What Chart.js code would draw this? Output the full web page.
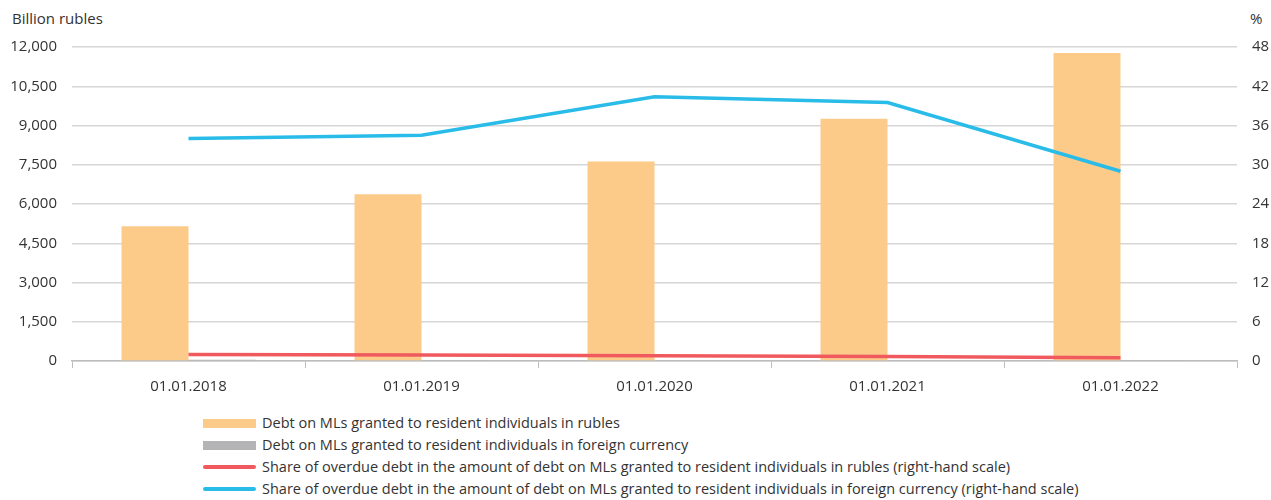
<!DOCTYPE html>
<html>
<head>
<meta charset="utf-8">
<script src="https://cdn.jsdelivr.net/npm/chart.js@4"></script>
<style>
  body { margin: 0; background: #fff; font-family: "Open Sans", sans-serif; color: #333; }
  #wrap { position: relative; width: 1271px; height: 500px; }
  #chart-box { position: absolute; left: 0; top: 0; width: 1271px; height: 410px; }
  .unit { position: absolute; top: 8px; font-size: 15px; color: #333; }
  #legend { position: absolute; left: 203px; top: 412px; font-size: 14.5px; color: #333; }
  .item { height: 22px; line-height: 22px; display: flex; align-items: center; }
  .sw { width: 53px; margin-right: 6px; }
</style>
</head>
<body>
<div id="wrap">
  <div class="unit" style="left:12px">Billion rubles</div>
  <div class="unit" style="left:1250px">%</div>
  <div id="chart-box"><canvas id="c"></canvas></div>
  <div id="legend"></div>
</div>
<script>
// données
const dates = ["01.01.2018", "01.01.2019", "01.01.2020", "01.01.2021", "01.01.2022"];
const debtRub = [5150, 6370, 7620, 9260, 11770];
const debtFx = [45, 35, 30, 25, 20];
const overdueRub = [1.0, 0.9, 0.8, 0.7, 0.5];
const overdueFx = [34.0, 34.5, 40.4, 39.5, 29.0];

const labels = [
  "Debt on MLs granted to resident individuals in rubles",
  "Debt on MLs granted to resident individuals in foreign currency",
  "Share of overdue debt in the amount of debt on MLs granted to resident individuals in rubles (right-hand scale)",
  "Share of overdue debt in the amount of debt on MLs granted to resident individuals in foreign currency (right-hand scale)",
];
const colors = ["#FCCB8A", "#B4B4B6", "#F05A5E", "#29BCE8"];

const tickFont = { family: "Open Sans", size: 15 };

new Chart(document.getElementById("c"), {
  type: "bar",
  data: {
    labels: dates,
    datasets: [
      { label: labels[0], data: debtRub, backgroundColor: colors[0], yAxisID: "y", order: 2, categoryPercentage: 0.575, barPercentage: 1 },
      { label: labels[1], data: debtFx, backgroundColor: colors[1], yAxisID: "y", order: 2, categoryPercentage: 0.575, barPercentage: 1 },
      { type: "line", label: labels[2], data: overdueRub, borderColor: colors[2], borderWidth: 3.5, pointRadius: 0, tension: 0, yAxisID: "y1", order: 0 },
      { type: "line", label: labels[3], data: overdueFx, borderColor: colors[3], borderWidth: 3.5, pointRadius: 0, tension: 0, yAxisID: "y1", order: 0 },
    ],
  },
  options: {
    responsive: true,
    maintainAspectRatio: false,
    animation: false,
    layout: { padding: { top: 47, left: 0, right: 0, bottom: 4 } },
    plugins: { legend: { display: false }, tooltip: { enabled: false } },
    scales: {
      x: {
        grid: { offset: true, drawOnChartArea: false, drawTicks: true, tickLength: 7, color: "#bdbdbd" },
        border: { color: "#bdbdbd", width: 1.5 },
        ticks: { color: "#333", font: tickFont, padding: 10 },
      },
      y: {
        position: "left",
        min: 0,
        max: 12000,
        afterFit: (s) => { s.width = 72; },
        ticks: {
          stepSize: 1500,
          color: "#333",
          font: tickFont,
          padding: 15,
          callback: (v) => v.toLocaleString("en-US"),
        },
        grid: { color: "#d6d6d6", lineWidth: 1.5, drawTicks: false },
        border: { display: false },
      },
      y1: {
        position: "right",
        min: 0,
        max: 48,
        afterFit: (s) => { s.width = 34; },
        ticks: { stepSize: 6, color: "#333", font: tickFont, padding: 15 },
        grid: { drawOnChartArea: false, drawTicks: false },
        border: { display: false },
      },
    },
  },
});

// légende HTML
const legend = document.getElementById("legend");
labels.forEach((lab, i) => {
  const row = document.createElement("div");
  row.className = "item";
  const sw = document.createElement("span");
  sw.className = "sw";
  if (i < 2) {
    sw.style.height = "9px";
    sw.style.background = colors[i];
  } else {
    sw.style.height = "3.5px";
    sw.style.borderRadius = "2px";
    sw.style.background = colors[i];
  }
  row.appendChild(sw);
  row.appendChild(document.createTextNode(lab));
  legend.appendChild(row);
});
</script>
</body>
</html>
